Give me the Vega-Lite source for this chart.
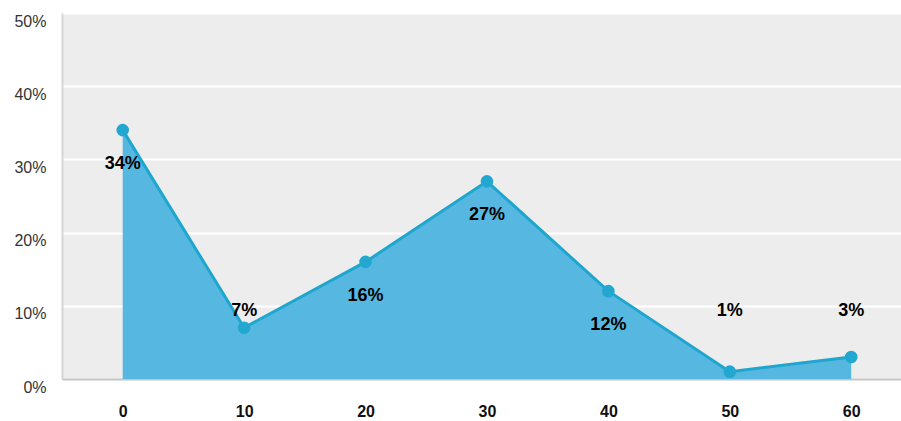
{
  "$schema": "https://vega.github.io/schema/vega-lite/v6.json",
  "autosize": "none",
  "padding": {"left": 62, "top": 13, "right": 0, "bottom": 42},
  "width": 839,
  "height": 366,
  "background": "white",
  "config": {
    "view": {"fill": "#ededed", "stroke": null},
    "font": "Liberation Sans"
  },
  "data": {
    "values": [
      {"minute": 0, "share": 34},
      {"minute": 10, "share": 7},
      {"minute": 20, "share": 16},
      {"minute": 30, "share": 27},
      {"minute": 40, "share": 12},
      {"minute": 50, "share": 1},
      {"minute": 60, "share": 3}
    ]
  },
  "transform": [{"calculate": "datum.share + '%'", "as": "label"}],
  "encoding": {
    "x": {
      "field": "minute",
      "type": "quantitative",
      "scale": {"domain": [-5, 64.1], "nice": false, "zero": false},
      "axis": {
        "title": null,
        "values": [0, 10, 20, 30, 40, 50, 60],
        "grid": false,
        "ticks": false,
        "domainColor": "#c4c4c4",
        "domainWidth": 2,
        "labelFont": "Liberation Sans",
        "labelFontSize": 16,
        "labelFontWeight": "bold",
        "labelColor": "#111111",
        "labelPadding": 24
      }
    },
    "y": {
      "field": "share",
      "type": "quantitative",
      "scale": {"domain": [0, 50], "nice": false},
      "axis": {
        "title": null,
        "values": [0, 10, 20, 30, 40, 50],
        "labelExpr": "datum.value + '%'",
        "grid": true,
        "gridColor": "#ffffff",
        "gridWidth": 2,
        "ticks": false,
        "domainColor": "#d6d6d6",
        "domainWidth": 2,
        "labelFont": "Liberation Sans",
        "labelFontSize": 16,
        "labelColor": "#333333",
        "labelPadding": 16,
        "labelOffset": 8
      }
    }
  },
  "layer": [
    {"mark": {"type": "area", "color": "#56b8e0", "opacity": 1}},
    {"mark": {"type": "line", "color": "#1ea6cf", "strokeWidth": 3}},
    {"mark": {"type": "point", "filled": true, "color": "#22a8d0", "size": 160, "opacity": 1}},
    {
      "transform": [{"filter": "datum.share >= 10"}],
      "mark": {"type": "text", "dy": 34, "fontSize": 18, "fontWeight": "bold", "color": "#000000", "baseline": "middle"},
      "encoding": {"text": {"field": "label", "type": "nominal"}}
    },
    {
      "transform": [{"filter": "datum.share < 10"}],
      "mark": {"type": "text", "fontSize": 18, "fontWeight": "bold", "color": "#000000", "baseline": "middle"},
      "encoding": {
        "y": {"datum": 9.3, "type": "quantitative"},
        "text": {"field": "label", "type": "nominal"}
      }
    }
  ]
}
